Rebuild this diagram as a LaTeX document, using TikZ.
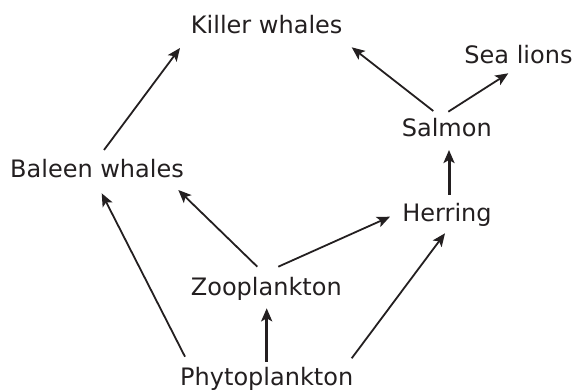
\documentclass[tikz,border=0pt]{standalone}
\usepackage{fontspec}
\setmainfont{DejaVu Sans}
\usetikzlibrary{arrows.meta,calc}
\definecolor{ink}{HTML}{231F20}
\tikzset{
  lbl/.style={anchor=base,inner sep=0pt,text=ink,font=\fontsize{24}{28}\selectfont},
  arr/.style={draw=ink,line width=1.8pt,-{Stealth[length=13pt,width=11pt,inset=3pt]}},
  arrthick/.style={arr,line width=3pt}
}
\begin{document}
\begin{tikzpicture}[x=1pt,y=-1pt]
\useasboundingbox (0,0) rectangle (576,390);
\node[lbl] (kw) at (266.7,34) {Killer whales};
\node[lbl] (sl) at (518.5,63.3) {Sea lions};
\node[lbl] (sa) at (446.8,136.7) {Salmon};
\node[lbl] (bw) at (97,177.7) {Baleen whales};
\node[lbl] (he) at (447,222) {Herring};
\node[lbl] (zo) at (266.3,295.7) {Zooplankton};
\node[lbl] (ph) at (266.7,385) {Phytoplankton};

\draw[arr] ($(bw.base)+(7,-27.7)$) -- ($(kw.base)+(-86.7,14)$);
\draw[arr] ($(sa.base)+(-13.5,-25.7)$) -- ($(kw.base)+(85,13.3)$);
\draw[arr] ($(sa.base)+(1.5,-25)$) -- ($(sl.base)+(-10.2,10)$);
\draw[arrthick] ($(he.base)+(2,-27)$) -- ($(sa.base)+(2.2,13.3)$);
\draw[arr] ($(zo.base)+(-9,-29)$) -- ($(bw.base)+(81.3,12.3)$);
\draw[arr] ($(zo.base)+(12,-29)$) -- ($(he.base)+(-57,-5.3)$);
\draw[arr] ($(ph.base)+(-81.7,-28.3)$) -- ($(bw.base)+(4.7,15.6)$);
\draw[arrthick] ($(ph.base)+(0,-23.3)$) -- ($(zo.base)+(0.4,12.6)$);
\draw[arr] ($(ph.base)+(85,-26.7)$) -- ($(he.base)+(-2,11.3)$);
\end{tikzpicture}
\end{document}
